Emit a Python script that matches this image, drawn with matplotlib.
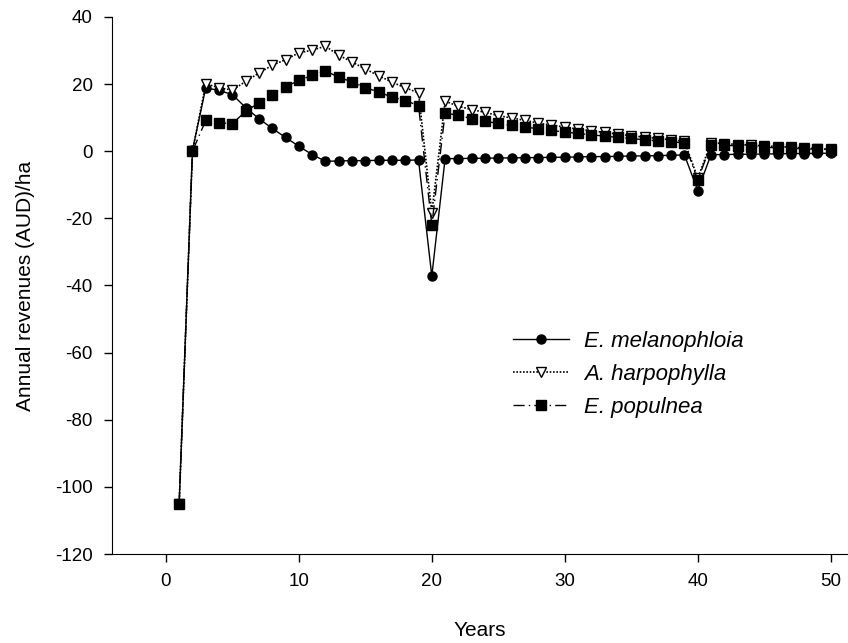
import matplotlib.pyplot as plt

plt.rcParams["font.family"] = ["Liberation Sans", "DejaVu Sans"]
plt.rcParams["axes.unicode_minus"] = False

years = list(range(1, 51))

e_melanophloia = [
    -105, 0.3, 18.9, 18.1, 16.9, 13.0, 9.7, 6.8, 4.1, 1.5,
    -1.0, -3.0, -2.9, -2.8, -2.8, -2.7, -2.7, -2.7, -2.6, -37.2,
    -2.2, -2.2, -2.1, -2.1, -2.0, -2.0, -1.9, -1.9, -1.8, -1.8,
    -1.7, -1.6, -1.6, -1.5, -1.4, -1.4, -1.3, -1.2, -1.1, -11.7,
    -1.0, -1.0, -0.9, -0.9, -0.8, -0.8, -0.7, -0.7, -0.6, -0.6,
]

a_harpophylla = [
    -105, 0.0, 20.1, 18.9, 18.2, 20.8, 23.3, 25.6, 27.3, 29.3,
    30.1, 31.3, 28.6, 26.6, 24.5, 22.5, 20.6, 18.9, 17.4, -18.3,
    14.9, 13.4, 12.4, 11.6, 10.6, 9.9, 9.2, 8.4, 7.8, 7.2,
    6.6, 6.1, 5.6, 5.1, 4.6, 4.2, 3.8, 3.4, 3.0, -8.0,
    2.5, 2.3, 2.0, 1.8, 1.6, 1.4, 1.2, 1.0, 0.8, 0.6,
]

e_populnea = [
    -105, 0.0, 9.2, 8.5, 8.2, 11.9, 14.4, 16.9, 19.2, 21.1,
    22.6, 24.0, 22.0, 20.7, 18.9, 17.7, 16.1, 15.1, 13.6, -22.0,
    11.4, 10.7, 9.7, 8.9, 8.3, 7.7, 7.2, 6.7, 6.2, 5.7,
    5.3, 4.9, 4.5, 4.1, 3.8, 3.4, 3.1, 2.8, 2.5, -8.6,
    2.0, 1.8, 1.6, 1.4, 1.2, 1.0, 0.9, 0.7, 0.6, 0.5,
]

fig = plt.figure(figsize=(8.48, 6.43), dpi=100)
ax = fig.add_axes([0.1321, 0.1384, 0.8679, 0.8352])

ax.plot(years, e_melanophloia, color="black", lw=1.0, ls="-",
        marker="o", ms=6.5, mfc="black", mec="black",
        label="E. melanophloia", zorder=3)
ax.plot(years, a_harpophylla, color="black", lw=1.2, ls=(0, (1, 1)),
        marker="v", ms=7.5, mfc="white", mec="black", mew=1.0,
        label="A. harpophylla", zorder=4)
ax.plot(years, e_populnea, color="black", lw=1.0, ls=(0, (8, 3, 1, 3)),
        marker="s", ms=6.5, mfc="black", mec="black",
        label="E. populnea", zorder=5)

ax.set_xlim(-4.05, 51.3)
ax.set_ylim(-120, 40)
ax.set_xticks([0, 10, 20, 30, 40, 50])
ax.set_yticks(range(-120, 41, 20))
ax.tick_params(direction="out", length=6, width=1, labelsize=13.5, pad=8)

for side in ["top", "right"]:
    ax.spines[side].set_visible(False)

ax.set_xlabel("Years", fontsize=15, labelpad=22)
ax.set_ylabel("Annual revenues (AUD)/ha", fontsize=15, labelpad=14)

leg = ax.legend(loc="upper left", bbox_to_anchor=(0.518, 0.453), frameon=False,
                fontsize=16, handlelength=2.5, handletextpad=0.68,
                labelspacing=0.55)
for t in leg.get_texts():
    t.set_style("italic")

fig.savefig("out.png", dpi=100)
